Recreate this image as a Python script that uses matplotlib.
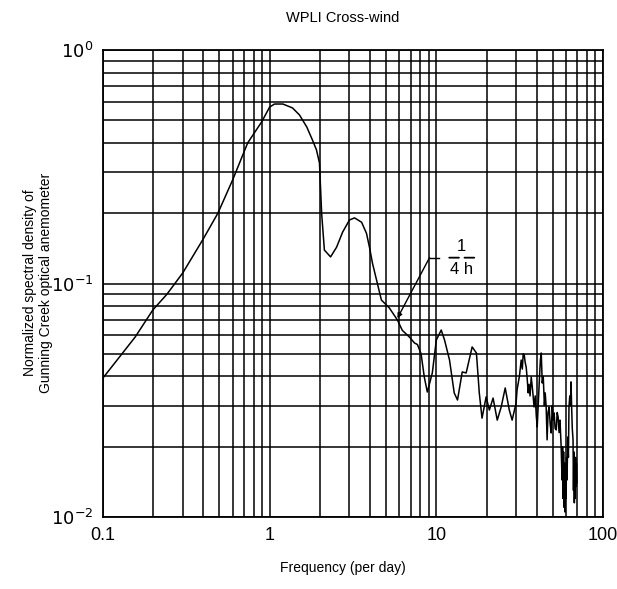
import matplotlib
matplotlib.use("Agg")
import matplotlib.pyplot as plt
from matplotlib.ticker import FixedLocator, NullFormatter, LogLocator

plt.rcParams['font.family'] = ['Liberation Sans', 'DejaVu Sans']

# ---- data (frequency per day, normalized spectral density) ----
freq = [0.1, 0.156, 0.199, 0.242, 0.301, 0.397, 0.489, 0.60, 0.738, 0.895, 1.0,
        1.07, 1.20, 1.37, 1.51, 1.67, 1.81, 1.91, 1.99, 2.05, 2.13, 2.32,
        2.52, 2.74, 3.01, 3.23, 3.56, 3.81, 3.97, 4.14, 4.38, 4.68, 5.23,
        5.84, 6.25, 6.89, 7.4, 7.7, 8.1, 8.47, 8.83, 9.46, 10.0, 10.7, 11.2,
        12.0, 12.8, 13.4, 14.3, 15.1, 16.4, 17.4, 18.1, 18.8, 19.9, 20.8,
        21.9, 23.2, 24.5, 25.9, 27.4, 28.5, 30.1, 30.5, 31.5, 32.3, 32.8,
        33.2, 33.7, 34.1, 34.6, 35.0, 35.6, 36.0, 36.5, 37.1, 37.8, 38.6,
        39.2, 39.8, 40.3, 41.0, 41.6, 42.1, 42.6, 43.2, 43.8, 44.5, 45.0,
        45.6, 46.2, 46.8, 47.5, 48.2, 48.9, 49.6, 50.2, 50.9, 51.6, 52.4,
        53.1, 53.8, 54.5, 55.2, 56.1, 56.8, 57.2, 57.6, 58.0, 58.4, 58.8,
        59.2, 59.6, 60.0, 60.4, 60.8, 61.5, 62.0, 62.5, 63.2, 63.8, 64.3,
        64.8, 65.4, 66.1, 66.5, 66.9, 67.3, 67.7, 68.1, 68.5, 68.9, 69.3, 69.8]
density = [0.0394, 0.059, 0.077, 0.090, 0.111, 0.154, 0.20, 0.278, 0.40, 0.492, 0.57,
           0.587, 0.587, 0.565, 0.527, 0.468, 0.41, 0.373, 0.328, 0.20, 0.139, 0.130,
           0.143, 0.166, 0.187, 0.191, 0.183, 0.164, 0.143, 0.122, 0.1035, 0.085, 0.0785,
           0.0698, 0.063, 0.059, 0.0556, 0.0548, 0.050, 0.0397, 0.0343, 0.0414, 0.0573, 0.0632, 0.0573,
           0.047, 0.034, 0.0317, 0.0418, 0.0414, 0.0535, 0.0504, 0.034, 0.0265, 0.0327, 0.0287,
           0.0323, 0.026, 0.0296, 0.0357, 0.0287, 0.026, 0.0308, 0.035, 0.040, 0.047, 0.043,
           0.050, 0.0494, 0.046, 0.0439, 0.040, 0.034, 0.037, 0.033, 0.0398, 0.035, 0.0296,
           0.033, 0.027, 0.0243, 0.032, 0.040, 0.047, 0.0504, 0.0375, 0.040, 0.030, 0.034,
           0.0296, 0.0214, 0.028, 0.0296, 0.025, 0.0229, 0.030, 0.026, 0.0279, 0.024, 0.0236,
           0.028, 0.0268, 0.023, 0.026, 0.020, 0.0144, 0.020, 0.012, 0.019, 0.011, 0.017,
           0.0105, 0.016, 0.012, 0.018, 0.0144, 0.022, 0.018, 0.0296, 0.033, 0.030, 0.0379,
           0.030, 0.024, 0.0214, 0.013, 0.019, 0.0115, 0.017, 0.012, 0.018, 0.0135, 0.017, 0.014]

x_tick_values = [0.1, 1, 10, 100]
x_tick_labels = ['0.1', '1', '10', '100']
y_tick_values = [0.01, 0.1, 1]
y_tick_labels = [r'$10^{-2}$', r'$10^{-1}$', r'$10^{0}$']

title = 'WPLI Cross-wind'
xlabel = 'Frequency (per day)'
ylabel = 'Normalized spectral density of\nGunning Creek optical anemometer'

# annotation anchor points (data space)
arrow_tip = (5.84, 0.071)
arrow_knee = (9.1, 0.129)
arrow_end = (10.4, 0.129)
label_pos = (14.2, 0.129)

# ---- figure ----
fig = plt.figure(figsize=(6.17, 5.89), dpi=100)
ax = fig.add_axes([103/617, 1 - 517/589, 500/617, 467/589])
ax.set_xscale('log')
ax.set_yscale('log')
ax.set_xlim(0.1, 100)
ax.set_ylim(0.01, 1)

ax.xaxis.set_major_locator(FixedLocator(x_tick_values))
ax.xaxis.set_minor_locator(LogLocator(base=10, subs=range(2, 10)))
ax.yaxis.set_major_locator(FixedLocator(y_tick_values))
ax.yaxis.set_minor_locator(LogLocator(base=10, subs=range(2, 10)))
ax.xaxis.set_minor_formatter(NullFormatter())
ax.yaxis.set_minor_formatter(NullFormatter())
ax.set_xticklabels(x_tick_labels, fontsize=13)
ax.set_yticklabels(y_tick_labels, fontsize=13)
ax.tick_params(which='both', length=0, pad=7)

ax.grid(True, which='both', color='black', linewidth=1.1)
for s in ax.spines.values():
    s.set_color('black')
    s.set_linewidth(1.3)

ax.plot(freq, density, color='black', linewidth=1.1, zorder=3)

# annotation "1/4 h"
ax.annotate('', xy=arrow_tip, xytext=arrow_knee,
            arrowprops=dict(arrowstyle='-|>', color='black', lw=1.0,
                            mutation_scale=7, shrinkA=0, shrinkB=0), zorder=4)
ax.plot([arrow_knee[0], arrow_end[0]], [arrow_knee[1], arrow_end[1]],
        color='black', lw=1.0, zorder=4)
ax.annotate('1', xy=label_pos, xytext=(0, 3), textcoords='offset points',
            ha='center', va='bottom', fontsize=12)
ax.annotate('4 h', xy=label_pos, xytext=(0, -3), textcoords='offset points',
            ha='center', va='top', fontsize=12)
ax.annotate('', xy=label_pos, xytext=(-11, 0), textcoords='offset points',
            arrowprops=dict(arrowstyle='-', color='black', lw=1.3))
ax.annotate('', xy=label_pos, xytext=(11, 0), textcoords='offset points',
            arrowprops=dict(arrowstyle='-', color='black', lw=1.3))

fig.text(343/617, 1 - 18/589, title, ha='center', va='center', fontsize=10.5)
fig.text(343/617, 1 - 568/589, xlabel, ha='center', va='center', fontsize=10)
fig.text(38/617, 1 - 283/589, ylabel, ha='center', va='center', rotation=90,
         fontsize=10, linespacing=1.15)

fig.savefig('out.png', dpi=100, facecolor='white')
